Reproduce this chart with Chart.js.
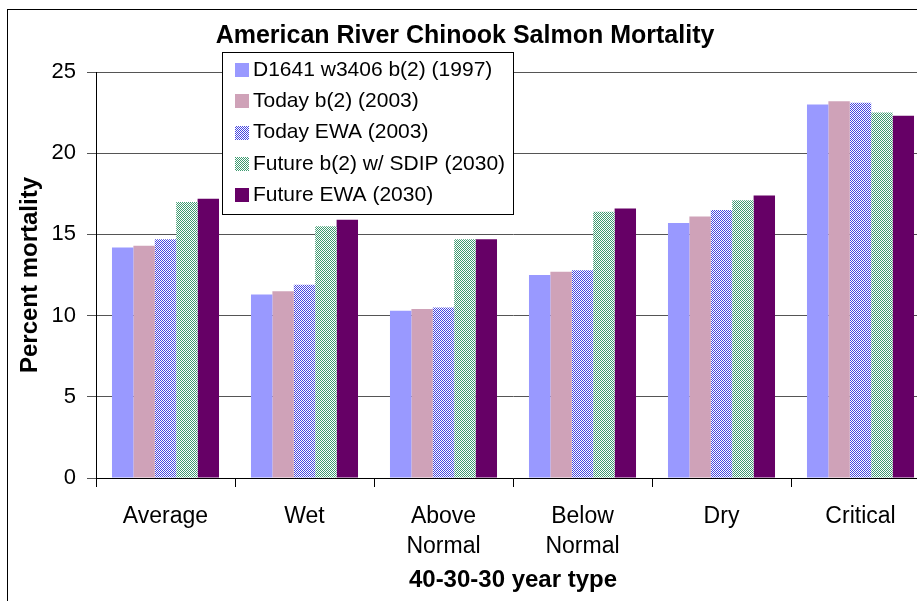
<!DOCTYPE html>
<html>
<head>
<meta charset="utf-8">
<title>American River Chinook Salmon Mortality</title>
<script src="https://cdn.jsdelivr.net/npm/chart.js@4.4.1/dist/chart.umd.min.js"></script>
<style>
    html, body { margin: 0; padding: 0; overflow: hidden; background: #fff; }
    canvas { display: block; }
</style>
</head>
<body>
<canvas id="myChart" width="940" height="601"></canvas>
<script>
// year types (x categories)
const yearTypes = ["Average", "Wet", ["Above", "Normal"], ["Below", "Normal"], "Dry", "Critical"];

// series names
const seriesNames = [
    "D1641 w3406 b(2) (1997)",
    "Today b(2) (2003)",
    "Today EWA (2003)",
    "Future b(2) w/ SDIP (2030)",
    "Future EWA (2030)"
];

// percent mortality
const d1641B2 = [14.2, 11.3, 10.3, 12.5, 15.7, 23.0];
const todayB2 = [14.3, 11.5, 10.4, 12.7, 16.1, 23.2];
const todayEWA = [14.7, 11.9, 10.5, 12.8, 16.5, 23.1];
const futureB2SDIP = [17.0, 15.5, 14.7, 16.4, 17.1, 22.5];
const futureEWA = [17.2, 15.9, 14.7, 16.6, 17.4, 22.3];

const yTicks = [0, 5, 10, 15, 20, 25];

const FONT = "'Liberation Sans', Arial, sans-serif";

document.addEventListener("DOMContentLoaded", function () {
    const ctx = document.getElementById("myChart").getContext("2d");

    // little 2x2 checker like the excel fill patterns
    const checker = (color) => {
        const c = document.createElement("canvas");
        c.width = 2;
        c.height = 2;
        const g = c.getContext("2d");
        g.fillStyle = "#ffffff";
        g.fillRect(0, 0, 2, 2);
        g.fillStyle = color;
        g.fillRect(0, 0, 1, 1);
        g.fillRect(1, 1, 1, 1);
        return ctx.createPattern(c, "repeat");
    };

    const colors = ["#9999ff", "#cfa2b8", checker("#4646e0"), checker("#3d9a70"), "#660066"];
    const values = [d1641B2, todayB2, todayEWA, futureB2SDIP, futureEWA];

    // legend box floating over the plot, like the original
    const boxLegend = {
        id: "boxLegend",
        afterDraw(chart) {
            const c = chart.ctx;
            c.save();
            c.fillStyle = "#ffffff";
            c.fillRect(222.5, 52.5, 291, 162);
            c.strokeStyle = "#000000";
            c.lineWidth = 1;
            c.strokeRect(222.5, 52.5, 291, 162);
            c.font = "21px " + FONT;
            c.textBaseline = "middle";
            chart.data.datasets.forEach((ds, i) => {
                const cy = 70 + i * 31.3;
                c.fillStyle = ds.backgroundColor;
                c.fillRect(235, Math.round(cy - 7), 14, 14);
                c.fillStyle = "#000000";
                c.fillText(ds.label, 253, cy);
            });
            c.restore();
        }
    };

    // outer frame of the chart object
    const frame = {
        id: "frame",
        afterDraw(chart) {
            const c = chart.ctx;
            c.save();
            c.strokeStyle = "#000000";
            c.lineWidth = 1;
            c.strokeRect(7.5, 9.5, 2000, 2000);
            c.restore();
        }
    };

    new Chart(ctx, {
        type: "bar",
        data: {
            labels: yearTypes,
            datasets: seriesNames.map((name, i) => ({
                label: name,
                data: values[i],
                backgroundColor: colors[i],
                borderWidth: 0,
                categoryPercentage: 0.77,
                barPercentage: 1.0
            }))
        },
        options: {
            responsive: false,
            animation: false,
            layout: { padding: { left: 0, right: 10, top: 0, bottom: 0 } },
            plugins: {
                legend: { display: false },
                tooltip: { enabled: false },
                title: {
                    display: true,
                    text: "American River Chinook Salmon Mortality",
                    color: "#000000",
                    font: { family: FONT, size: 25, weight: "bold", lineHeight: 1.2 },
                    padding: { top: 21, bottom: 21 }
                }
            },
            scales: {
                x: {
                    grid: { drawOnChartArea: false, tickLength: 9, color: "#000000" },
                    border: { color: "#000000" },
                    ticks: {
                        color: "#000000",
                        font: { family: FONT, size: 23, lineHeight: 1.3 },
                        padding: 15,
                        maxRotation: 0,
                        autoSkip: false
                    },
                    title: {
                        display: true,
                        text: "40-30-30 year type",
                        color: "#000000",
                        font: { family: FONT, size: 24, weight: "bold", lineHeight: 1.2 },
                        padding: { top: 0, bottom: 6.6 }
                    },
                    afterFit(scale) { scale.height = 123; }
                },
                y: {
                    min: 0,
                    max: 25,
                    afterBuildTicks(scale) { scale.ticks = yTicks.map(v => ({ value: v })); },
                    ticks: { color: "#000000", font: { family: FONT, size: 22 }, padding: 11 },
                    grid: { color: "#555555", tickLength: 9 },
                    border: { color: "#000000" },
                    title: {
                        display: true,
                        text: "Percent mortality",
                        color: "#000000",
                        font: { family: FONT, size: 24, weight: "bold", lineHeight: 1.2 },
                        padding: { top: 15.6, bottom: 0 }
                    },
                    afterFit(scale) { scale.width = 96; }
                }
            }
        },
        plugins: [boxLegend, frame]
    });
});
</script>
</body>
</html>
